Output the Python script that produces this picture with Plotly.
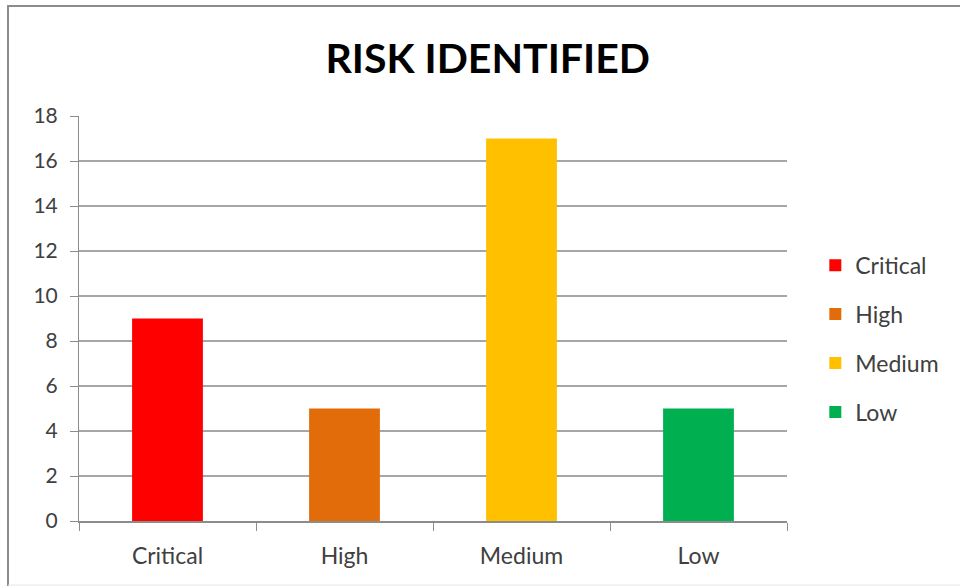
import plotly.graph_objects as go

# Risk counts by severity
categories = ["Critical", "High", "Medium", "Low"]
counts = [9, 5, 17, 5]
colors = ["#ff0000", "#e36c0a", "#ffc000", "#00b050"]
y_ticks = [0, 2, 4, 6, 8, 10, 12, 14, 16, 18]

FONT = "Lato, 'Open Sans', sans-serif"
W, H = 960, 587
L, R, T, B = 79, 173, 116, 66

fig = go.Figure()
for cat, val, col in zip(categories, counts, colors):
    fig.add_trace(go.Bar(
        x=[cat], y=[val], name=cat, legendgroup=cat,
        marker=dict(color=col, line=dict(width=0)),
        width=0.4,
    ))

def px_to_paper_x(px):
    return (px - L) / (W - L - R)

def px_to_paper_y(py):
    return (H - B - py) / (H - T - B)

# Outer frame of the chart area
frame = dict(color="#8c8c8c", width=2)
fig.add_shape(type="line", xref="paper", yref="paper",
              x0=px_to_paper_x(7), x1=px_to_paper_x(960),
              y0=px_to_paper_y(6), y1=px_to_paper_y(6), line=frame)
fig.add_shape(type="line", xref="paper", yref="paper",
              x0=px_to_paper_x(8), x1=px_to_paper_x(8),
              y0=px_to_paper_y(6), y1=px_to_paper_y(586), line=frame)
fig.add_shape(type="line", xref="paper", yref="paper",
              x0=px_to_paper_x(8), x1=px_to_paper_x(960),
              y0=px_to_paper_y(585), y1=px_to_paper_y(585),
              line=dict(color="#e6e6e6", width=1))

fig.update_layout(
    width=W, height=H,
    margin=dict(l=L, r=R, t=T, b=B),
    paper_bgcolor="white", plot_bgcolor="white",
    barmode="overlay",
    title=dict(text="<b>RISK IDENTIFIED</b>", x=0.508, xref="container",
               xanchor="center", y=0.9, yref="container", yanchor="middle",
               font=dict(family=FONT, size=41, color="#000000")),
    font=dict(family=FONT, color="#404040"),
    showlegend=True,
    legend=dict(x=1.04, xanchor="left", y=0.45, yanchor="middle",
                font=dict(family=FONT, size=23, color="#404040"),
                tracegroupgap=16, bgcolor="rgba(0,0,0,0)"),
    xaxis=dict(
        type="category", categoryorder="array", categoryarray=categories,
        showline=True, linecolor="#8c8c8c", linewidth=2,
        ticks="outside", tickson="boundaries", ticklen=8,
        tickcolor="#8c8c8c", tickwidth=1,
        tickfont=dict(family=FONT, size=23, color="#404040"),
        ticklabelstandoff=13,
        showgrid=False, zeroline=False,
    ),
    yaxis=dict(
        range=[0, 18], tickvals=y_ticks, ticktext=[str(v) for v in y_ticks],
        showline=True, linecolor="#8c8c8c", linewidth=1,
        ticks="outside", ticklen=8, tickcolor="#8c8c8c",
        showgrid=True, gridcolor="#a6a6a6", gridwidth=1.5,
        zeroline=False,
        tickfont=dict(family=FONT, size=21, color="#404040"),
        ticklabelstandoff=8,
    ),
)

fig.write_html("out.html")
